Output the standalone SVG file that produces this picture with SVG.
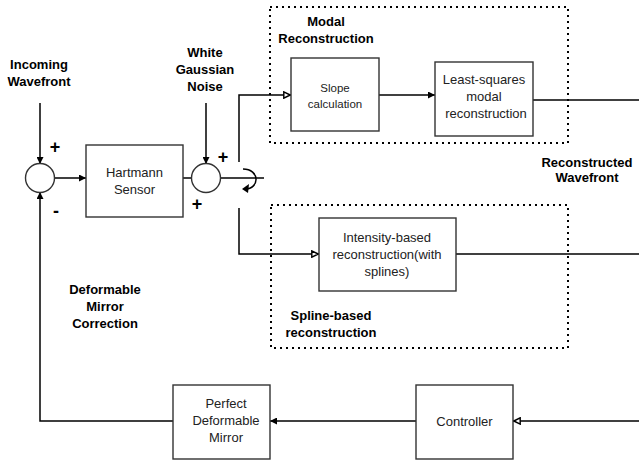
<svg xmlns="http://www.w3.org/2000/svg" width="639" height="462" viewBox="0 0 639 462">
<style>
.box{fill:#fff;stroke:#333;stroke-width:1.4}
.sum{fill:#fff;stroke:#333;stroke-width:1.4}
.dot{fill:none;stroke:#000;stroke-width:2;stroke-dasharray:2 4}
.ln{fill:none;stroke:#000;stroke-width:1.5}
.t{font-family:"Liberation Sans",Arial,sans-serif;font-size:13px;fill:#222;text-anchor:middle}
.ts{font-family:"Liberation Sans",Arial,sans-serif;font-size:11.5px;fill:#222;text-anchor:middle}
.b{font-family:"Liberation Sans",Arial,sans-serif;font-size:13px;font-weight:bold;fill:#000;text-anchor:middle}
.sg{font-family:"Liberation Sans",Arial,sans-serif;font-size:18px;font-weight:bold;fill:#000;text-anchor:middle}
</style>
<defs>
<marker id="af" viewBox="0 0 10 10" refX="10" refY="5" markerWidth="7" markerHeight="7" markerUnits="userSpaceOnUse" orient="auto"><path d="M0,0 L10,5 L0,10 z" fill="#000"/></marker>
<marker id="ao" viewBox="0 0 10 10" refX="10" refY="5" markerWidth="8" markerHeight="8" markerUnits="userSpaceOnUse" orient="auto"><path d="M1,1 L9,5 L1,9 z" fill="#fff" stroke="#000" stroke-width="1.8"/></marker>
</defs>

<g id="modal-group">
<rect class="dot" x="270" y="7" width="298" height="136"/>
<text class="b" x="326" y="26">Modal</text>
<text class="b" x="326" y="43">Reconstruction</text>
</g>
<g id="spline-group">
<rect class="dot" x="271" y="205" width="297" height="143"/>
<text class="b" x="331" y="320">Spline-based</text>
<text class="b" x="331" y="337">reconstruction</text>
</g>

<g id="connectors">
<line class="ln" x1="40" y1="103" x2="40" y2="164" marker-end="url(#af)"/>
<line class="ln" x1="55" y1="178" x2="86" y2="178" marker-end="url(#af)"/>
<line class="ln" x1="183" y1="178" x2="191" y2="178"/>
<line class="ln" x1="206" y1="103" x2="206" y2="164" marker-end="url(#af)"/>
<line class="ln" x1="221" y1="178" x2="264" y2="178"/>
<path class="ln" d="M243,169 C260,169 260,189 245,189"/>
<path d="M242,189 L249,184 L248,193 z" fill="#000"/>
<polyline class="ln" points="239,162 239,95 291,95" marker-end="url(#ao)"/>
<polyline class="ln" points="239,208 239,254 319,254" marker-end="url(#ao)"/>
<line class="ln" x1="379" y1="95" x2="435" y2="95" marker-end="url(#af)"/>
<line class="ln" x1="533" y1="100" x2="639" y2="100"/>
<line class="ln" x1="456" y1="254" x2="639" y2="254"/>
<line class="ln" x1="639" y1="421" x2="513" y2="421" marker-end="url(#ao)"/>
<line class="ln" x1="416" y1="421" x2="270" y2="421" marker-end="url(#af)"/>
<polyline class="ln" points="173,421 40,421 40,192" marker-end="url(#af)"/>
</g>

<g id="sum1"><circle class="sum" cx="40" cy="178" r="14.5"/></g>
<g id="hartmann"><rect class="box" x="86" y="145" width="97" height="72"/>
<text class="t" x="134.5" y="177">Hartmann</text><text class="t" x="134.5" y="194">Sensor</text></g>
<g id="sum2"><circle class="sum" cx="206" cy="178" r="14.5"/></g>
<g id="slope"><rect class="box" x="291" y="58" width="88" height="73"/>
<text class="ts" x="335" y="92">Slope</text><text class="ts" x="335" y="108">calculation</text></g>
<g id="lsq"><rect class="box" x="435" y="62" width="98" height="74"/>
<text class="t" x="484" y="84">Least-squares</text><text class="t" x="484" y="101">modal</text><text class="t" x="486" y="118">reconstruction</text></g>
<g id="intensity"><rect class="box" x="319" y="218" width="137" height="73"/>
<text class="t" x="387" y="242">Intensity-based</text><text class="t" x="387" y="259">reconstruction(with</text><text class="t" x="387" y="276">splines)</text></g>
<g id="dm"><rect class="box" x="173" y="385" width="97" height="74"/>
<text class="t" x="226" y="408">Perfect</text><text class="t" x="226" y="425">Deformable</text><text class="t" x="226" y="442">Mirror</text></g>
<g id="controller"><rect class="box" x="416" y="385" width="97" height="74"/>
<text class="t" x="464.5" y="426">Controller</text></g>

<g id="labels">
<text class="b" x="39" y="69">Incoming</text><text class="b" x="39" y="86">Wavefront</text>
<text class="b" x="205" y="57">White</text><text class="b" x="205" y="74">Gaussian</text><text class="b" x="205" y="91">Noise</text>
<text class="b" x="587" y="167">Reconstructed</text><text class="b" x="587" y="182">Wavefront</text>
<text class="b" x="105" y="294">Deformable</text><text class="b" x="105" y="311">Mirror</text><text class="b" x="105" y="328">Correction</text>
<text class="sg" x="55" y="153">+</text>
<text class="sg" x="56" y="217">-</text>
<text class="sg" x="223" y="163">+</text>
<text class="sg" x="197" y="210">+</text>
</g>
</svg>
